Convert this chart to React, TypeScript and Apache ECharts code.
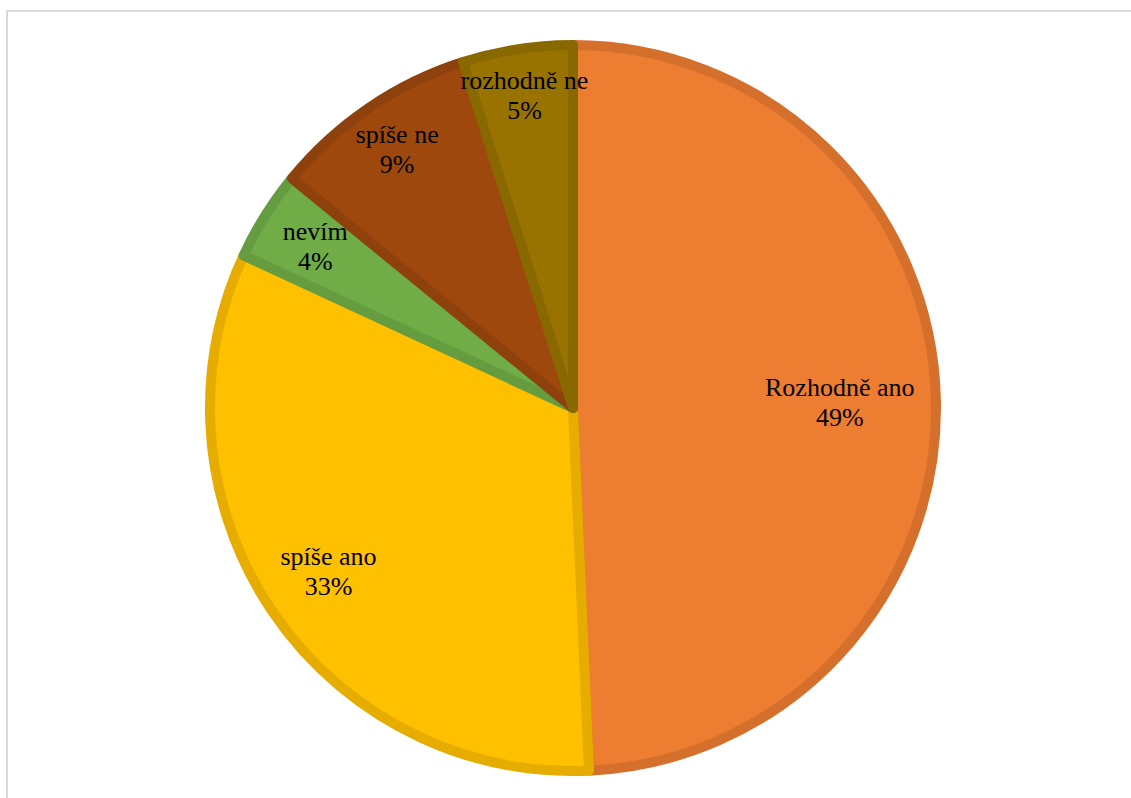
import React, { useEffect, useRef } from "react";
import * as echarts from "echarts";

const categories = ["Rozhodně ano", "spíše ano", "nevím", "spíše ne", "rozhodně ne"];
const values = [49.3, 32.6, 4.0, 9.2, 4.9];
const fillColors = ["#ED7D31", "#FFC000", "#70AD47", "#9E480E", "#997300"];
const borderColors = ["#D5702C", "#E6AD00", "#659C40", "#8E410D", "#8A6800"];
const labelRadiusRatio = [0.725, 0.8, 0.826, 0.85, 0.86];

const CX = 573;
const CY = 408;
const R = 363;
const R_VISUAL = 368;

export default function App() {
  const ref = useRef<HTMLDivElement>(null);
  useEffect(() => {
    if (!ref.current) return;
    const chart = echarts.init(ref.current, undefined, { renderer: "svg" });
    const total = values.reduce((a, b) => a + b, 0);
    const midAngles: number[] = [];
    let acc = 0;
    values.forEach((v) => {
      const a0 = (acc / total) * 2 * Math.PI;
      acc += v;
      const a1 = (acc / total) * 2 * Math.PI;
      midAngles.push((a0 + a1) / 2);
    });
    chart.setOption({
      animation: false,
      backgroundColor: "#ffffff",
      graphic: [
        {
          type: "rect",
          shape: { x: 7, y: 11, width: 1300, height: 1000 },
          style: { fill: "none", stroke: "#D9D9D9", lineWidth: 2 },
          silent: true,
          z: 0,
        },
      ],
      series: [
        {
          type: "pie",
          center: [CX, CY],
          radius: [0, R],
          startAngle: 90,
          clockwise: true,
          avoidLabelOverlap: false,
          label: {
            show: true,
            position: "inside",
            fontFamily: "Liberation Serif",
            fontSize: 26,
            lineHeight: 30,
            color: "#000000",
            align: "center",
            formatter: (p: any) => `${p.name}\n${Math.round(p.percent)}%`,
          },
          labelLine: { show: false },
          labelLayout: (params: any) => {
            const i = params.dataIndex;
            const a = midAngles[i];
            const r = labelRadiusRatio[i] * R_VISUAL;
            return {
              x: CX + r * Math.sin(a),
              y: CY - r * Math.cos(a),
              align: "center",
              verticalAlign: "middle",
            };
          },
          emphasis: { disabled: true },
          data: categories.map((name, i) => ({
            name,
            value: values[i],
            itemStyle: {
              color: fillColors[i],
              borderColor: borderColors[i],
              borderWidth: 10,
            },
          })),
        },
      ],
    });
    return () => chart.dispose();
  }, []);
  return (
    <div
      ref={ref}
      style={{ position: "fixed", left: 0, top: 0, width: 1131, height: 798 }}
    />
  );
}
